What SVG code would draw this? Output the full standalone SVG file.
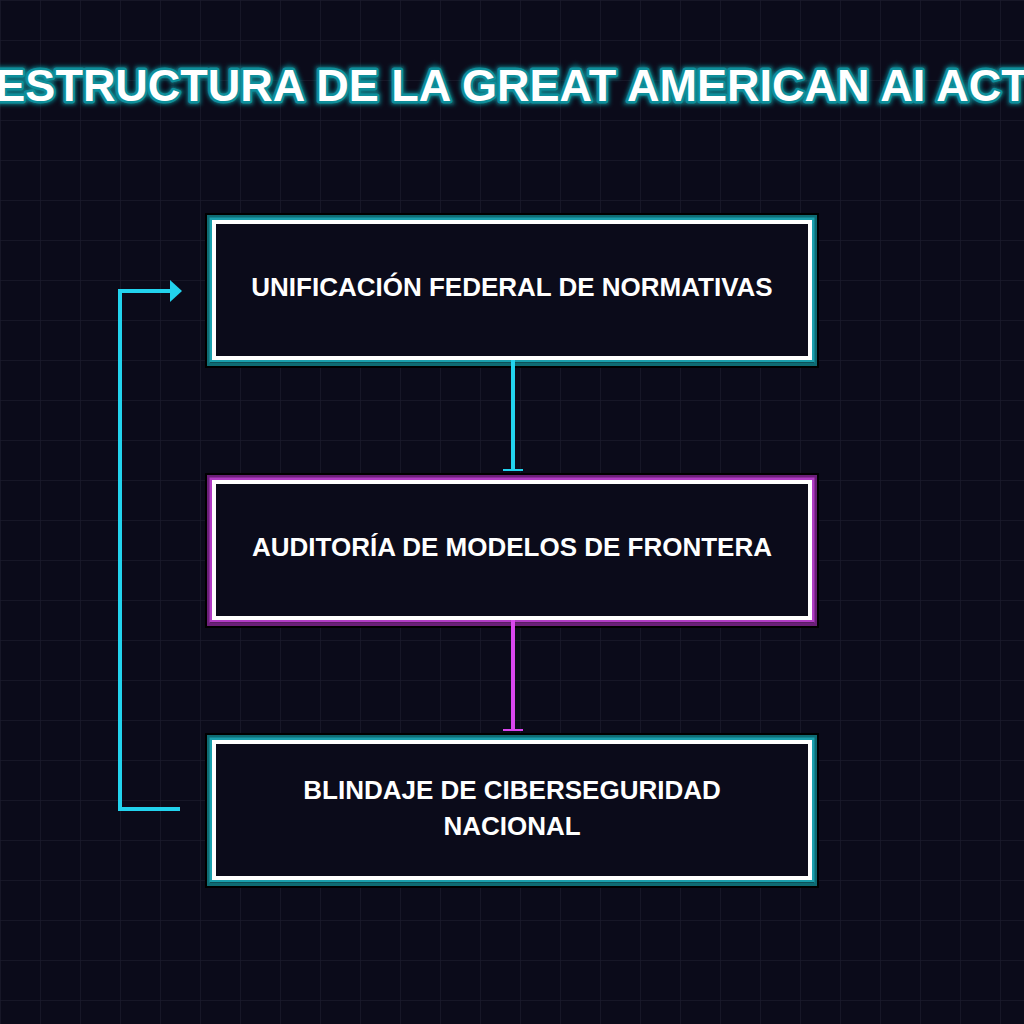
<svg xmlns="http://www.w3.org/2000/svg" width="1024" height="1024" viewBox="0 0 1024 1024">
<defs>
<pattern id="grid" width="40" height="40" patternUnits="userSpaceOnUse">
<path d="M40 0H0V40" fill="none" stroke="#1a1a2c" stroke-width="1.5"/>
</pattern>
<marker id="arr" markerWidth="12" markerHeight="22" refX="10" refY="11" orient="auto" markerUnits="userSpaceOnUse"><path d="M0 0L12 11L0 22Z" fill="#22d3ee"/></marker>
<filter id="glow" x="-5%" y="-50%" width="110%" height="200%"><feGaussianBlur stdDeviation="2"/></filter>
</defs>
<style>
.t{font-family:"Liberation Sans",Arial,sans-serif;font-weight:bold;fill:#fff;text-anchor:middle}
.lbl{font-size:26px}
</style>
<rect width="1024" height="1024" fill="#0b0b1a"/>
<rect width="1024" height="1024" fill="url(#grid)"/>
<g id="title">
<text class="t" x="512" y="101" font-size="45" stroke="#0e7c86" stroke-width="7" filter="url(#glow)">ESTRUCTURA DE LA GREAT AMERICAN AI ACT</text>
<text class="t" x="512" y="101" font-size="45" stroke="#0e8f9b" stroke-width="5" stroke-linejoin="round">ESTRUCTURA DE LA GREAT AMERICAN AI ACT</text>
<text class="t" x="512" y="101" font-size="45">ESTRUCTURA DE LA GREAT AMERICAN AI ACT</text>
</g>
<g id="n1">
<rect x="205" y="213" width="614" height="155" fill="#000"/>
<rect x="208.5" y="216.5" width="607" height="148" fill="none" stroke="#0e6b73" stroke-width="3"/>
<rect x="211" y="219" width="602" height="142" fill="none" stroke="#1aa0ad" stroke-width="3"/>
<rect x="214" y="222" width="596" height="136" fill="#0b0b1a" stroke="#fff" stroke-width="4"/>
<text class="t lbl" x="512" y="296">UNIFICACIÓN FEDERAL DE NORMATIVAS</text>
</g>
<g id="n2">
<rect x="205" y="473" width="614" height="155" fill="#000"/>
<rect x="208.5" y="476.5" width="607" height="148" fill="none" stroke="#6b1f78" stroke-width="3"/>
<rect x="211" y="479" width="602" height="142" fill="none" stroke="#b13cc4" stroke-width="3"/>
<rect x="214" y="482" width="596" height="136" fill="#0b0b1a" stroke="#fff" stroke-width="4"/>
<text class="t lbl" x="512" y="556">AUDITORÍA DE MODELOS DE FRONTERA</text>
</g>
<g id="n3">
<rect x="205" y="733" width="614" height="155" fill="#000"/>
<rect x="208.5" y="736.5" width="607" height="148" fill="none" stroke="#0e6b73" stroke-width="3"/>
<rect x="211" y="739" width="602" height="142" fill="none" stroke="#1aa0ad" stroke-width="3"/>
<rect x="214" y="742" width="596" height="136" fill="#0b0b1a" stroke="#fff" stroke-width="4"/>
<text class="t lbl" x="512" y="799">BLINDAJE DE CIBERSEGURIDAD</text>
<text class="t lbl" x="512" y="835">NACIONAL</text>
</g>
<g id="connectors" fill="none" stroke-width="4">
<path d="M513 360V470" stroke="#22d3ee"/><path d="M503 470H523" stroke="#22d3ee" stroke-width="2"/>
<path d="M513 620V730" stroke="#d946ef"/><path d="M503 730H523" stroke="#d946ef" stroke-width="2"/>
<path d="M180 809H120V291H180" stroke="#22d3ee" marker-end="url(#arr)"/>
</g>
</svg>
